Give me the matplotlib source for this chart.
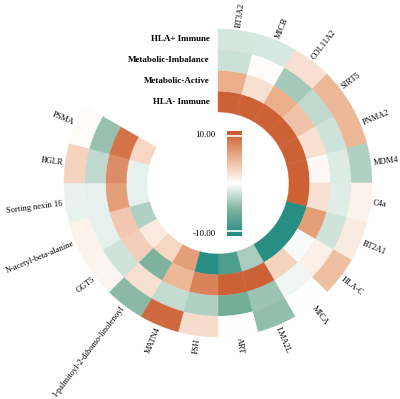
import matplotlib
matplotlib.use("Agg")
import matplotlib.pyplot as plt
import numpy as np
from matplotlib.colors import LinearSegmentedColormap, Normalize
from matplotlib.transforms import ScaledTranslation

plt.rcParams['font.family'] = ['Liberation Serif', 'DejaVu Serif']

categories = ['BT3A2', 'MICB', 'COL11A2', 'SIRT5', 'PNMA2', 'MDM4', 'C4a',
              'BT2A1', 'HLA-C', 'MICA', 'LMA2L', 'ART', 'FSH', 'MATN4',
              '1-palmitoyl-2-dihomo-linolenoyl', 'GGT5',
              'N-acetyl-beta-alanine', 'Sorting nexin 16', 'BGLR', 'PSMA']

# rings from inside to outside
ring_names = ['HLA- Immune', 'Metabolic-Active', 'Metabolic-Imbalance', 'HLA+ Immune']

hla_neg = [9.5, 9.5, 9.5, 9.5, 9.5, 9.5, 9.5, -9.5, -9.5, -9.5,
           -3.3, -7.5, -9.5, 6.0, 2.5, 1.3, -3.0, -1.0, -1.0, 2.5]
met_active = [5.0, 2.0, 5.0, 3.8, 2.0, 0.4, 2.0, 6.0, -0.3, 2.7,
              9.5, 9.5, 7.5, 4.5, -5.0, 3.0, 3.5, 6.0, 7.0, 8.5]
met_imbalance = [-2.0, 0.2, -3.5, -2.5, -1.8, -1.3, -1.2, -1.8, 1.0, -0.6,
                 -3.8, -5.5, -3.0, -2.3, 2.0, -1.8, -1.0, -1.0, -2.5, -4.0]
hla_pos = [-1.6, -1.5, 2.0, 4.5, 4.5, -3.0, 0.8, 1.3, 4.0, 0.0,
           -4.2, 0.0, 2.2, 9.0, -4.5, 0.7, 0.8, -0.8, 2.8, 0.3]

rings = [hla_neg, met_active, met_imbalance, hla_pos]

cmap = LinearSegmentedColormap.from_list(
    'tealorange', ['#1f8a80', '#7db29c', '#ffffff', '#ebb08c', '#c9592d'])
norm = Normalize(-10, 10)

fig = plt.figure(figsize=(4, 3.99), dpi=100)
ax = fig.add_axes([0.1575, 0.1529, 0.775, 0.777], projection='polar')
ax.set_theta_zero_location('N')
ax.set_theta_direction(-1)
ax.set_ylim(0, 155)
ax.axis('off')

n = len(categories)
step = 300 / n
theta = np.deg2rad(step / 2 + step * np.arange(n))
r0 = 71
rw = 20.75

for k, vals in enumerate(rings):
    cols = cmap(norm(np.array(vals)))
    ax.bar(theta, rw, width=np.deg2rad(step), bottom=r0 + k * rw,
           color=cols, edgecolor=cols, linewidth=0.3, align='center')

# category labels
for i, lab in enumerate(categories):
    ang = 90 - step / 2 - step * i
    if np.cos(np.deg2rad(ang)) >= 0:
        rot, ha = ang, 'left'
    else:
        rot, ha = ang + 180, 'right'
    ax.text(theta[i], r0 + 4 * rw + 2.5, lab, rotation=rot, rotation_mode='anchor',
            ha=ha, va='center', fontsize=6.0)

# ring names
shift = ScaledTranslation(-8 / 100, 0, fig.dpi_scale_trans)
for k, name in enumerate(ring_names):
    ax.text(0, r0 + (k + 0.5) * rw, name, transform=ax.transData + shift,
            ha='right', va='center', fontsize=6.5, fontweight='bold')

# colour bar
cax = fig.add_axes([0.5675, 0.4085, 0.0375, 0.263])
sm = plt.cm.ScalarMappable(norm=Normalize(-10.6, 10.6), cmap=cmap)
cb = fig.colorbar(sm, cax=cax, ticks=[-10, 10])
cb.outline.set_visible(False)
cax.yaxis.set_ticks_position('left')
cax.tick_params(length=0, labelsize=6.5, pad=8)
cax.set_yticklabels(['-10.00', '10.00'])
cax.axhline(9.6, color='white', lw=1.2)
cax.axhline(-9.6, color='white', lw=1.2)

fig.savefig('out.png', dpi=100)
